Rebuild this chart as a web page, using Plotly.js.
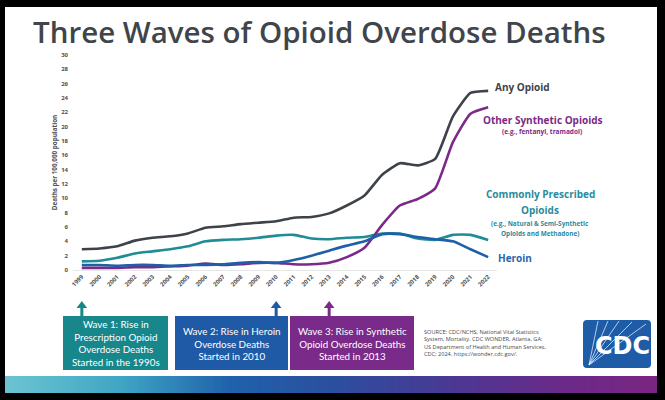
<!DOCTYPE html>
<html>
<head>
<meta charset="utf-8">
<script src="https://cdn.plot.ly/plotly-3.0.1.min.js"></script>
<style>html,body{margin:0;padding:0;background:#fff;}#chart{width:665px;height:400px;}</style>
</head>
<body>
<div id="chart"></div>
<script>
// ---- data ----
const years = [1999,2000,2001,2002,2003,2004,2005,2006,2007,2008,2009,2010,2011,2012,2013,2014,2015,2016,2017,2018,2019,2020,2021,2022];
const anyOpioid = [2.9,3.0,3.3,4.1,4.5,4.7,5.1,5.9,6.1,6.4,6.6,6.8,7.3,7.4,7.9,9.0,10.4,13.3,14.9,14.6,15.5,21.4,24.7,25.0];
const otherSynthetic = [0.3,0.3,0.3,0.4,0.4,0.5,0.6,0.9,0.7,0.8,1.0,1.0,0.8,0.8,1.0,1.8,3.1,6.3,9.0,9.9,11.4,17.8,21.8,22.7];
const commonlyPrescribed = [1.2,1.3,1.7,2.3,2.6,2.9,3.3,4.0,4.2,4.3,4.5,4.8,4.9,4.4,4.3,4.5,4.6,5.1,5.1,4.4,4.2,4.9,4.9,4.2];
const heroin = [0.7,0.7,0.6,0.7,0.7,0.6,0.7,0.7,0.8,1.0,1.1,1.0,1.4,2.0,2.7,3.4,4.0,5.0,5.0,4.6,4.3,4.0,2.9,1.8];
const yTicks = [0,2,4,6,8,10,12,14,16,18,20,22,24,26,28,30];
const waveYears = [1999, 2010, 2013];
const waveTexts = ["Wave 1: Rise in<br>Prescription Opioid<br>Overdose Deaths<br>Started in the 1990s",
                   "Wave 2: Rise in Heroin<br>Overdose Deaths<br>Started in 2010",
                   "Wave 3: Rise in Synthetic<br>Opioid Overdose Deaths<br>Started in 2013"];
const sourceText = "SOURCE: CDC/NCHS, National Vital Statistics<br>System, Mortality. CDC WONDER, Atlanta, GA:<br>US Department of Health and Human Services,<br>CDC; 2024. https://wonder.cdc.gov/.";

// ---- styles / geometry ----
const W = 665, H = 400;
const M = {l: 73, r: 168, t: 55, b: 130};
const PW = W - M.l - M.r, PH = H - M.t - M.b;
const X = px => (px - M.l) / PW;
const Y = py => (H - M.b - py) / PH;
const cAny = '#3d4348', cSyn = '#7b2a87', cPres = '#1f8c97', cHer = '#1f5fa8';
const boxCols = ['#17878c', '#1f5aa6', '#7a2a89'];
const boxX = [[63,168],[175,288],[290,414]];
const boxY = [316, 370];

function line(name, y, color) {
  return {x: years, y: y, name: name, type: 'scatter', mode: 'lines',
          line: {color: color, width: 2.6, shape: 'spline', smoothing: 0.5},
          hoverinfo: 'skip', cliponaxis: false};
}
const traces = [
  line('Commonly Prescribed Opioids', commonlyPrescribed, cPres),
  line('Other Synthetic Opioids', otherSynthetic, cSyn),
  line('Heroin', heroin, cHer),
  line('Any Opioid', anyOpioid, cAny)
];

const shapes = [];
const annotations = [];

// gradient bar
const stops = [[5,[108,196,209]],[120,[63,166,196]],[230,[31,98,171]],[330,[43,79,159]],[450,[74,56,147]],[560,[106,42,136]],[657,[123,37,130]]];
function colAt(px){
  for (let i=0;i<stops.length-1;i++){
    const a=stops[i], b=stops[i+1];
    if (px>=a[0] && px<=b[0]){
      const t=(px-a[0])/(b[0]-a[0]);
      const c=a[1].map((v,k)=>Math.round(v+(b[1][k]-v)*t));
      return 'rgb('+c.join(',')+')';
    }
  }
  return 'rgb(123,37,130)';
}
for (let px=5; px<657; px+=4){
  shapes.push({type:'rect', xref:'paper', yref:'paper', x0:X(px), x1:X(Math.min(px+4.6,657)), y0:Y(393), y1:Y(376),
               line:{width:0}, fillcolor:colAt(px+2), layer:'below'});
}
// frame
[[0,665,0,7],[0,5,0,400],[657,665,0,400],[0,665,393,400]].forEach(r=>{
  shapes.push({type:'rect', xref:'paper', yref:'paper', x0:X(r[0]), x1:X(r[1]), y0:Y(r[3]), y1:Y(r[2]),
               line:{width:0}, fillcolor:'#000', layer:'above'});
});

// wave boxes + arrows
waveYears.forEach((yr,i)=>{
  shapes.push({type:'rect', xref:'paper', yref:'paper', x0:X(boxX[i][0]), x1:X(boxX[i][1]), y0:Y(boxY[1]), y1:Y(boxY[0]),
               line:{width:0}, fillcolor:boxCols[i]});
  shapes.push({type:'line', xref:'x', yref:'paper', x0:yr, x1:yr, y0:Y(316), y1:Y(307),
               line:{color:boxCols[i], width:3}});
  shapes.push({type:'path', xref:'x', yref:'paper',
               path:'M '+(yr-0.3)+' '+Y(308)+' L '+(yr+0.3)+' '+Y(308)+' L '+yr+' '+Y(301)+' Z',
               line:{width:0}, fillcolor:boxCols[i]});
  annotations.push({xref:'paper', yref:'paper', x:X((boxX[i][0]+boxX[i][1])/2), y:Y((boxY[0]+boxY[1])/2),
                    xanchor:'center', yanchor:'middle', showarrow:false, align:'center', text:waveTexts[i],
                    font:{family:'Lato', size:9.8, color:'#ffffff'}});
});

// source text
annotations.push({xref:'paper', yref:'paper', x:X(422), y:Y(343), xanchor:'left', yanchor:'middle', showarrow:false,
                  align:'left', text:sourceText, font:{family:'Open Sans', size:5.6, color:'#4a4a4a'}});

// CDC logo
const lx0=583, lx1=651, ly0=320, ly1=368, rr=4;
shapes.push({type:'path', xref:'paper', yref:'paper', line:{width:0}, fillcolor:'#1e5ca8',
  path:'M '+X(lx0+rr)+' '+Y(ly0)+' L '+X(lx1-rr)+' '+Y(ly0)+' Q '+X(lx1)+' '+Y(ly0)+' '+X(lx1)+' '+Y(ly0+rr)+
       ' L '+X(lx1)+' '+Y(ly1-rr)+' Q '+X(lx1)+' '+Y(ly1)+' '+X(lx1-rr)+' '+Y(ly1)+
       ' L '+X(lx0+rr)+' '+Y(ly1)+' Q '+X(lx0)+' '+Y(ly1)+' '+X(lx0)+' '+Y(ly1-rr)+
       ' L '+X(lx0)+' '+Y(ly0+rr)+' Q '+X(lx0)+' '+Y(ly0)+' '+X(lx0+rr)+' '+Y(ly0)+' Z'});
[[598,321],[608,321],[619,321],[632,322],[646,324]].forEach(p=>{
  shapes.push({type:'line', xref:'paper', yref:'paper', x0:X(589), y0:Y(365), x1:X(p[0]), y1:Y(p[1]),
               line:{color:'rgba(255,255,255,0.85)', width:0.8}});
});
annotations.push({xref:'paper', yref:'paper', x:X(622), y:Y(346), xanchor:'center', yanchor:'middle', showarrow:false,
                  text:'<b>CDC</b>', font:{family:'DejaVu Sans', size:24, color:'#ffffff'}});

// series labels
function lab(text, px, py, size, color, anchor){
  annotations.push({xref:'paper', yref:'paper', x:X(px), y:Y(py), xanchor:anchor||'left', yanchor:'middle',
                    showarrow:false, text:text, font:{family:'Open Sans', size:size, color:color, weight:700}});
}
lab('Any Opioid', 493, 87, 10, cAny);
lab('Other Synthetic Opioids', 481, 120, 10, cSyn);
lab('(e.g., fentanyl, tramadol)', 542, 131, 6.5, cSyn, 'center');
lab('Commonly Prescribed', 540, 194, 10, '#2a8c9c', 'center');
lab('Opioids', 540, 210, 10, '#2a8c9c', 'center');
lab('(e.g., Natural &amp; Semi-Synthetic', 540, 223, 6.4, '#2a8c9c', 'center');
lab('Opioids and Methadone)', 540, 233, 6.4, '#2a8c9c', 'center');
lab('Heroin', 496, 258, 10, '#2567b0');

const layout = {
  width: W, height: H,
  margin: M,
  paper_bgcolor: '#ffffff', plot_bgcolor: 'rgba(0,0,0,0)',
  showlegend: false,
  title: {text: 'Three Waves of Opioid Overdose Deaths', xref:'container', yref:'container',
          x: 33/W, xanchor:'left', y: 1-33/H, yanchor:'middle',
          font: {family:'Open Sans', size: 29.5, color:'#3f454a', weight:600}},
  xaxis: {range:[1998.5, 2022.5], tickmode:'array', tickvals: years, ticktext: years.map(String),
          tickangle:-45, ticks:'', showgrid:false, zeroline:false, showline:true, linecolor:'#e6e6e6', linewidth:1,
          tickfont:{family:'Open Sans', size:6, color:'#505050', weight:700}, fixedrange:true},
  yaxis: {range:[0,30], tickmode:'array', tickvals: yTicks, ticks:'', showgrid:false, zeroline:false, showline:false,
          ticklabelstandoff: 4,
          tickfont:{family:'Open Sans', size:6, color:'#505050', weight:700},
          title:{text:'Deaths per 100,000 population', standoff: 2, font:{family:'Open Sans', size:6.3, color:'#505050', weight:700}},
          fixedrange:true},
  shapes: shapes,
  annotations: annotations
};
Plotly.newPlot('chart', traces, layout, {displayModeBar:false, staticPlot:true});
</script>
</body>
</html>
